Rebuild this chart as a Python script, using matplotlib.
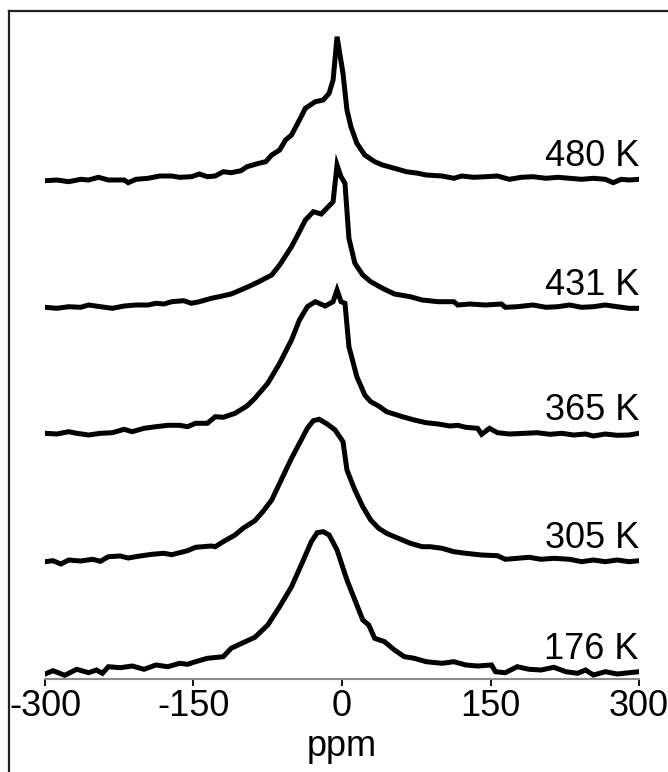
import numpy as np
import matplotlib
matplotlib.use("Agg")
import matplotlib.pyplot as plt
from matplotlib.lines import Line2D

plt.rcParams['font.family'] = ['Liberation Sans', 'DejaVu Sans']
plt.rcParams['axes.unicode_minus'] = False

# stacked spectra, intensities already include the vertical offset
temps = ["176 K", "305 K", "365 K", "431 K", "480 K"]

ppm_176 = [-300, -292, -280, -268, -256, -248, -242, -236, -224, -212, -200, -188, -176, -164,
           -156, -148, -136, -120, -112, -100, -88, -75, -63, -51, -39, -31, -25, -19, -13, -5,
           5, 13, 21, 27, 33, 43, 53, 63, 73, 85, 101, 113, 125, 137, 151, 155, 165, 177, 189,
           201, 214, 226, 238, 246, 254, 266, 278, 290, 300]
int_176 = [5, 8.3, 3.7, 9.7, 6.3, 9, 5.7, 12.3, 11.3, 13, 9.7, 14, 12.3, 15.7,
           14.7, 17.3, 20.7, 22.3, 30.7, 36.3, 41.7, 54, 72.3, 92.3, 119, 137.3, 146.3, 147.3, 144, 129,
           99, 79, 59, 54, 40.7, 37.3, 29, 22.3, 20.7, 17.3, 15.7, 17.3, 14, 13, 14, 7.3, 6.3, 12.3, 9.7,
           9, 11.7, 7.3, 5.7, 9, 4, 7.3, 5, 6.3, 7.3]

ppm_305 = [-300, -292, -284, -276, -264, -252, -244, -236, -224, -216, -204, -192, -180, -172,
           -156, -148, -132, -128, -120, -108, -100, -88, -80, -71, -63, -51, -43, -35, -29, -23,
           -15, -7, 1, 5, 13, 21, 29, 37, 45, 53, 61, 69, 81, 89, 101, 113, 125, 141, 157, 165,
           177, 189, 201, 214, 230, 242, 254, 266, 278, 290, 300]
int_305 = [117.3, 118.3, 115, 119, 118, 119.7, 117.7, 122.3, 123, 121, 123, 124.7, 125.7, 124.3,
           128.3, 131.7, 133, 132.3, 137.3, 144, 150.7, 158.3, 167.3, 179, 195.7, 220.7, 235.7, 250.7, 258.3, 259.7,
           255, 249, 237.3, 209, 189, 172.3, 159, 150.7, 145.7, 142.3, 139, 135.7, 132.3, 132.3, 130.7, 127.3, 125.7, 124, 123.3, 119.7,
           120.7, 121.7, 119.7, 120.7, 119.7, 117.3, 119, 117.3, 119, 117.3, 118.3]

ppm_365 = [-300, -288, -276, -268, -256, -244, -232, -220, -212, -200, -188, -176, -164, -156,
           -148, -136, -128, -120, -108, -96, -88, -75, -63, -51, -43, -35, -27, -17, -9, -5,
           -1, 3, 7, 15, 23, 29, 37, 45, 61, 73, 85, 97, 109, 117, 125, 137, 141, 149, 157, 169,
           185, 197, 210, 222, 234, 246, 254, 266, 278, 290, 300]
int_365 = [245.7, 245, 247.3, 245.7, 244, 245.7, 246.3, 249.7, 247.3, 250.7, 252.3, 253.7, 253.7, 252.3,
           255.7, 255.7, 262.3, 261.7, 265.7, 273, 280.7, 295.7, 315.7, 339, 359, 372.3, 377.3, 373, 377.3, 389,
           377.3, 375.7, 332.3, 302.3, 284, 277.3, 273, 267.3, 262.3, 259, 256.3, 255, 253, 253.7, 251.7, 250.7, 244.7, 250.7, 246.3, 245,
           245.7, 246.3, 244.7, 245.7, 244, 245, 243, 245, 243.7, 244, 245.7]

ppm_431 = [-300, -288, -276, -264, -256, -244, -232, -220, -208, -196, -188, -180, -172, -160,
           -152, -144, -132, -124, -112, -96, -84, -71, -63, -51, -43, -37, -29, -21, -9, -5,
           -1, 3, 7, 13, 21, 29, 41, 53, 69, 81, 97, 113, 117, 129, 145, 161, 165, 177, 193, 206,
           218, 230, 242, 254, 266, 278, 290, 300]
int_431 = [371.7, 370.7, 372.3, 371.7, 374, 372.3, 370.7, 373, 374, 374, 375.7, 375, 377.3, 378.3,
           375.7, 377.3, 380.7, 382.3, 385, 391.7, 397.3, 404, 414, 432.3, 447.3, 459, 467.3, 465, 477.3, 514,
           502.3, 495.7, 440.7, 415.7, 404, 397.3, 390.7, 385, 382.3, 379, 377.3, 377.3, 374, 375, 374, 375, 371.7, 372.3, 374, 371.7,
           372.3, 374, 371.7, 372.3, 374, 372.3, 370.7, 370.7]

ppm_480 = [-300, -288, -276, -264, -256, -246, -236, -220, -216, -208, -196, -184, -172, -164,
           -152, -144, -136, -128, -120, -112, -102, -96, -84, -77, -71, -63, -57, -51, -43, -37,
           -27, -19, -13, -9, -5, 1, 5, 9, 15, 23, 33, 41, 53, 65, 77, 85, 101, 113, 121, 133,
           145, 157, 169, 181, 193, 206, 218, 230, 242, 254, 266, 274, 282, 290, 300]
int_480 = [498.3, 499, 497.3, 499.7, 499, 501.7, 499, 499, 496.3, 499.7, 500.7, 503, 503, 501.7,
           502.3, 505, 502.3, 503, 507.3, 506.3, 508.3, 512.3, 515.7, 517.3, 524, 529, 539, 544, 559, 570.7,
           577.3, 579, 585.7, 599, 642.3, 605.7, 569, 552.3, 535.7, 524, 517.3, 514, 510.7, 507.3, 505.7, 504, 503, 500.7, 503, 501.7,
           502.3, 503, 499.7, 501.7, 502.3, 500.7, 501.7, 500.7, 499.7, 500.7, 499.7, 496.3, 499.7, 499, 499.7]

xticks = [-300, -150, 0, 150, 300]
xtick_labels = ["-300", "-150", "0", "150", "300"]

spectra = [(ppm_176, int_176), (ppm_305, int_305), (ppm_365, int_365),
           (ppm_431, int_431), (ppm_480, int_480)]

fig = plt.figure(figsize=(6.68, 7.72), dpi=100)
ax = fig.add_axes([45/668, 93/772, 594/668, 668/772])

for (x, y), lab in zip(spectra, temps):
    ax.plot(x, y, color='black', lw=3.6, solid_joinstyle='miter')
    ax.text(300, y[-1] + 13, lab, ha='right', va='baseline', fontsize=26)

ax.set_xlim(-300, 300)
ax.set_ylim(0, 668)
ax.set_xticks(xticks)
ax.set_xticklabels(xtick_labels)
ax.tick_params(axis='x', direction='out', length=5, width=1.3, color='black',
               labelsize=26, pad=2)
ax.set_yticks([])
for s in ['left', 'right', 'top']:
    ax.spines[s].set_visible(False)
ax.spines['bottom'].set_color('#8c8c8c')
ax.spines['bottom'].set_linewidth(1.5)
ax.set_xlabel("ppm", fontsize=26, labelpad=4)

# partial outer frame (top and left edges)
fig.add_artist(Line2D([9/668, 1.0], [1 - 11/772, 1 - 11/772], color='#222222', lw=1.6))
fig.add_artist(Line2D([9/668, 9/668], [0.0, 1 - 11/772], color='#222222', lw=1.6))

fig.savefig("out.png", dpi=100)
